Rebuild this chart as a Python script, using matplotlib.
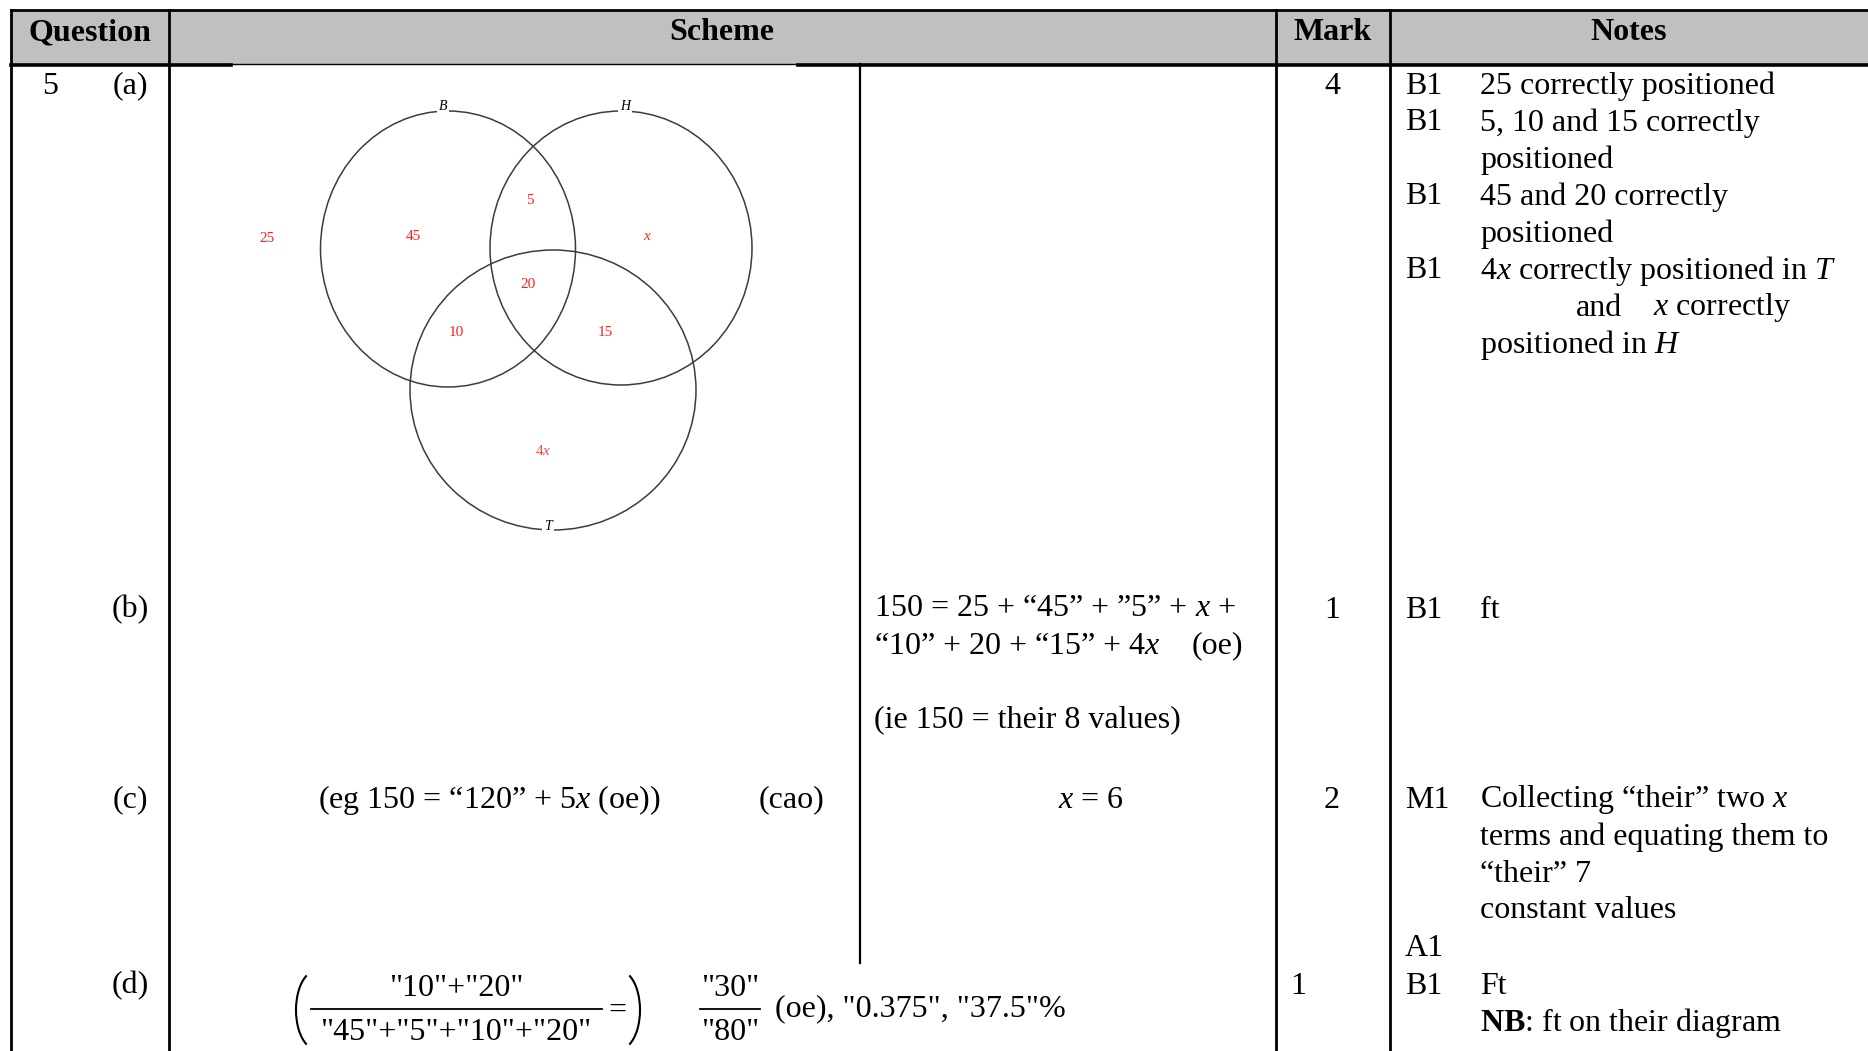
import matplotlib.pyplot as plt
from matplotlib.patches import Ellipse, Rectangle, Arc

plt.rcParams['font.family'] = 'Liberation Serif'
plt.rcParams['mathtext.fontset'] = 'custom'
plt.rcParams['mathtext.rm'] = 'Liberation Serif'
plt.rcParams['mathtext.it'] = 'Liberation Serif:italic'
plt.rcParams['mathtext.bf'] = 'Liberation Serif:bold'

# table content
headers = ['Question', 'Scheme', 'Mark', 'Notes']
parts = ['(a)', '(b)', '(c)', '(d)']
marks = ['4', '1', '2', '1']

# venn diagram: set names and the value in each region
sets = ['B', 'H', 'T']
regions = ['25', '45', '5', '$x$', '20', '10', '15', '4$x$']

notes_a = [('B1', '25 correctly positioned'),
           ('B1', '5, 10 and 15 correctly'),
           ('', 'positioned'),
           ('B1', '45 and 20 correctly'),
           ('', 'positioned'),
           ('B1', '4$x$ correctly positioned in $T$'),
           ('', ''),
           ('', 'positioned in $H$')]
notes_c = [('M1', 'Collecting \u201ctheir\u201d two $x$'),
           ('', 'terms and equating them to'),
           ('', '\u201ctheir\u201d 7'),
           ('', 'constant values'),
           ('A1', '')]

scheme_b = ['150 = 25 + \u201c45\u201d + \u201d5\u201d + $x$ +',
            '\u201c10\u201d + 20 + \u201c15\u201d + 4$x$',
            '(ie 150 = their 8 values)']
scheme_c = ['(eg 150 = \u201c120\u201d + 5$x$ (oe))', '(cao)', '$x$ = 6']
frac_d = ['"10"+"20"', '"45"+"5"+"10"+"20"']
frac_d2 = ['"30"', '"80"']
tail_d = '(oe), "0.375", "37.5"%'

W, H = 1868, 1051
fig = plt.figure(figsize=(W / 100, H / 100), dpi=100)
ax = fig.add_axes([0, 0, 1, 1])
ax.set_xlim(0, W)
ax.set_ylim(H, 0)
ax.axis('off')

fs = 23
dy = 3
col_x = [10.7, 169, 1276, 1390, W]
top, head_bot = 9.5, 63.5

# header band and grid
ax.add_patch(Rectangle((col_x[0], top), W - col_x[0], head_bot - top,
                       facecolor='#c0c0c0', edgecolor='none'))
ax.plot([col_x[0], W], [top, top], color='black', lw=2)
ax.plot([col_x[0], 231], [64.5, 64.5], color='black', lw=2.6)
ax.plot([798, W], [64.5, 64.5], color='black', lw=2.6)
ax.plot([231, 798], [63.8, 63.8], color='black', lw=1)
for x in col_x[:4]:
    ax.plot([x, x], [top, H], color='black', lw=2)
ax.plot([860, 860], [head_bot, 963], color='black', lw=1.6)

head_cx = [90, 722, 1333, 1629]
for name, cx in zip(headers, head_cx):
    ax.text(cx, 32.5, name, fontsize=fs, fontweight='bold', ha='center', va='center')

# question column
row_y = [83 + dy, 607 + dy, 797 + dy, 983 + dy]
ax.text(50, row_y[0], '5', fontsize=fs, ha='center', va='center')
for p, y in zip(parts, row_y):
    ax.text(130, y, p, fontsize=fs, ha='center', va='center')

# marks
mark_x = [1332, 1332, 1332, 1298]
for m, x, y in zip(marks, mark_x, row_y):
    ax.text(x, y, m, fontsize=fs, ha='center', va='center')

# notes
code_x, note_x, lh = 1405, 1480, 37
for i, (code, txt) in enumerate(notes_a):
    y = row_y[0] + i * lh
    ax.text(code_x, y, code, fontsize=fs, va='center')
    ax.text(note_x, y, txt, fontsize=fs, va='center')
ax.text(1576, row_y[0] + 6 * lh, 'and', fontsize=fs, va='center')
ax.text(1653, row_y[0] + 6 * lh, '$x$ correctly', fontsize=fs, va='center')

ax.text(code_x, row_y[1], 'B1', fontsize=fs, va='center')
ax.text(note_x, row_y[1], 'ft', fontsize=fs, va='center')

for i, (code, txt) in enumerate(notes_c):
    y = row_y[2] + i * lh
    ax.text(code_x, y, code, fontsize=fs, va='center')
    ax.text(note_x, y, txt, fontsize=fs, va='center')

ax.text(code_x, row_y[3], 'B1', fontsize=fs, va='center')
ax.text(note_x, row_y[3], 'Ft', fontsize=fs, va='center')
ax.text(note_x, row_y[3] + lh, r'$\mathbf{NB}$: ft on their diagram', fontsize=fs, va='center')

# scheme (b)
ax.text(874, 606 + dy, scheme_b[0], fontsize=fs, va='center')
ax.text(874, 643 + dy, scheme_b[1], fontsize=fs, va='center')
ax.text(1243, 643 + dy, '(oe)', fontsize=fs, ha='right', va='center')
ax.text(874, 717 + dy, scheme_b[2], fontsize=fs, va='center')

# scheme (c)
ax.text(318, 797 + dy, scheme_c[0], fontsize=fs, va='center')
ax.text(759, 797 + dy, scheme_c[1], fontsize=fs, va='center')
ax.text(1091, 797 + dy, scheme_c[2], fontsize=fs, ha='center', va='center')

# scheme (d): bracketed fraction
ax.text(456, 986 + dy, frac_d[0], fontsize=fs, ha='center', va='center')
ax.plot([311, 602], [1009, 1009], color='black', lw=1.3)
ax.text(456, 1030 + dy, frac_d[1], fontsize=fs, ha='center', va='center')
ax.text(617, 1008 + dy, '=', fontsize=fs, ha='center', va='center')
ax.add_patch(Arc((316, 1010), 40, 78, theta1=105, theta2=255, color='black', lw=1.5))
ax.add_patch(Arc((620, 1010), 40, 78, theta1=-75, theta2=75, color='black', lw=1.5))
ax.text(730, 985 + dy, frac_d2[0], fontsize=fs, ha='center', va='center')
ax.plot([700, 760], [1009, 1009], color='black', lw=1.3)
ax.text(730, 1030 + dy, frac_d2[1], fontsize=fs, ha='center', va='center')
ax.text(775, 1006 + dy, tail_d, fontsize=fs, va='center')

# venn diagram
circ = [((448, 249), 255, 276), ((621, 248), 262, 274), ((553, 390), 286, 280)]
for (c, w, h) in circ:
    ax.add_patch(Ellipse(c, w, h, fill=False, edgecolor='#3c3c3c', lw=1.1))
label_pos = [(443, 107), (625, 107), (548, 526)]
for s, (x, y) in zip(sets, label_pos):
    ax.text(x, y, s, fontsize=10, style='italic', ha='center', va='center',
            bbox=dict(facecolor='white', edgecolor='none', pad=1.5))
reg_pos = [(267, 239), (413, 236), (530, 200), (647, 236),
           (528, 284), (456, 333), (605, 332), (543, 451)]
reg_col = ['#ff2020'] * 7 + ['#f04a4a']
for v, (x, y), c in zip(regions, reg_pos, reg_col):
    ax.text(x, y, v, fontsize=11, color=c, ha='center', va='center')

fig.savefig('out.png', dpi=100)
